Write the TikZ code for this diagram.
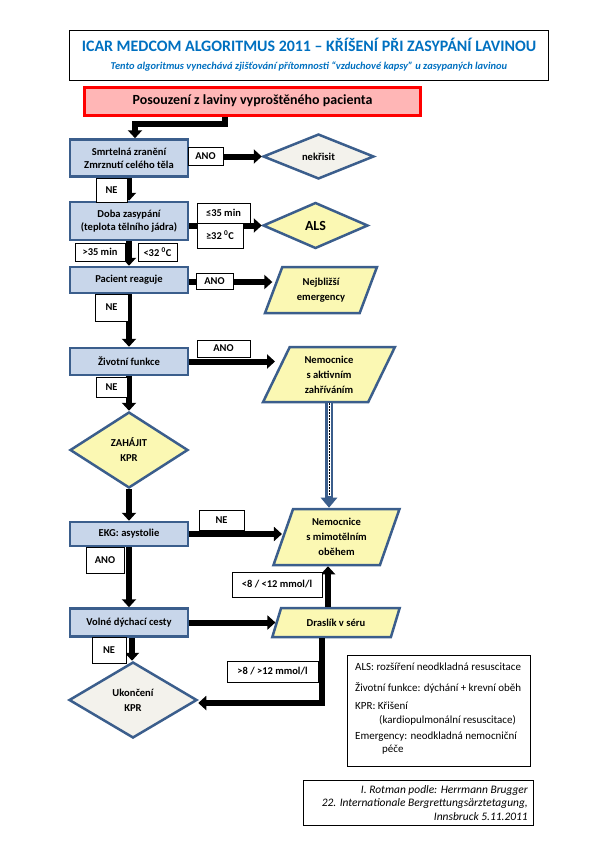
\documentclass[tikz,border=0pt]{standalone}
\usepackage{fontspec}
\setmainfont{Carlito}
\usepackage{tikz}
\usetikzlibrary{shapes,arrows.meta,positioning}
\usepackage{xcolor}
\definecolor{modra}{HTML}{3B5E8C}
\definecolor{svetlemodra}{HTML}{C8D6EA}
\definecolor{zluta}{HTML}{FBF8B3}
\definecolor{seda}{HTML}{F3F2EC}
\definecolor{ruzova}{HTML}{FFB6B6}
\definecolor{nadpis}{HTML}{0070C0}
\newcommand{\pismo}[2]{\fontsize{#1}{#2}\selectfont}

\begin{document}
\begin{tikzpicture}[x=1bp,y=-1bp,
    krok/.style={draw=modra,line width=2.5bp,fill=svetlemodra,minimum width=118bp,
      font=\pismo{10.6}{13}\bfseries,align=center,inner sep=1bp},
    rozhod/.style={diamond,draw=modra,line width=2.5bp,font=\pismo{10.6}{15}\bfseries,
      align=center,inner sep=0pt},
    cil/.style={trapezium,trapezium left angle=66,trapezium right angle=114,
      trapezium stretches=true,draw=modra,line width=2.5bp,fill=zluta,
      font=\pismo{10.6}{15}\bfseries,align=center,inner sep=0pt},
    popis/.style={draw,fill=white,line width=0.6bp,font=\pismo{10.5}{12}\bfseries,inner sep=1bp},
    sipka/.style={line width=6bp,-{Triangle[width=14bp,length=8bp]}},
    legenda/.style={anchor=west,font=\pismo{11}{12},inner sep=0pt},
    zdroj/.style={anchor=east,font=\pismo{11.5}{12}\itshape,inner sep=0pt}]
  \useasboundingbox (0,0) rectangle (595,842);
  % nadpis
  \node[draw,line width=1bp,minimum width=478bp,minimum height=50bp] (ramecek) at (309,55) {};
  \node[font=\pismo{16}{18}\bfseries,text=nadpis] (nadpis) at (309,45)
    {ICAR MEDCOM ALGORITMUS 2011 – KŘÍŠENÍ PŘI ZASYPÁNÍ LAVINOU};
  \node[font=\pismo{10.5}{12}\bfseries\itshape,text=nadpis] (podnadpis) at (309,67)
    {Tento algoritmus vynechává zjišťování přítomnosti “vzduchové kapsy” u zasypaných lavinou};
  \node[draw=red,line width=3bp,fill=ruzova,minimum width=335bp,minimum height=28bp,
    font=\pismo{14}{16}\bfseries] (start) at (252.5,101) {Posouzení z laviny vyproštěného pacienta};

  % levy sloupec
  \node[krok,minimum height=37bp] (smrt) at (129,158) {Smrtelná zranění\\Zmrznutí celého těla};
  \node[krok,minimum height=38bp] (doba) at (129,221) {Doba zasypání\\(teplota tělního jádra)};
  \node[krok,minimum height=26bp] (reaguje) at (129,280) {Pacient reaguje};
  \node[krok,minimum height=27bp] (funkce) at (129,361.5) {Životní funkce};
  \node[rozhod,fill=zluta,minimum width=118bp,minimum height=76bp] (zahajit) at (129,450) {ZAHÁJIT\\KPR};
  \node[krok,minimum height=24bp] (ekg) at (129,534) {EKG: asystolie};
  \node[krok,minimum height=28bp] (cesty) at (129,622.5) {Volné dýchací cesty};
  \node[rozhod,fill=seda,minimum width=128bp,minimum height=76bp] (konec) at (133,700) {Ukončení\\KPR};

  % pravy sloupec
  \node[rozhod,fill=seda,minimum width=111bp,minimum height=45bp] (nekrisit) at (318.5,156.5) {nekřisit};
  \node[rozhod,fill=zluta,minimum width=105bp,minimum height=46bp,font=\pismo{14}{16}\bfseries] (als) at (315.5,225.5) {ALS};
  \node[cil,minimum width=112bp,minimum height=46bp] (emerg) at (321,290) {Nejbližší\\emergency};
  \node[cil,minimum width=132bp,minimum height=55bp] (ohrev) at (329,374.5) {Nemocnice\\s aktivním\\zahříváním};
  \node[cil,trapezium left angle=70,trapezium right angle=110,minimum width=127bp,minimum height=56bp] (obeh) at (336.5,537) {Nemocnice\\s mimotělním\\oběhem};
  \node[cil,trapezium left angle=58,trapezium right angle=122,minimum width=128bp,minimum height=29bp] (draslik) at (336,622.5) {Draslík v séru};

  % sipky
  \draw[sipka] ([xshift=-27.5bp]start.south) -- ++(0,7) -| ([xshift=6bp]smrt.north);
  \draw[sipka] (smrt.east |- nekrisit.west) -- (nekrisit.west);
  \draw[sipka] (smrt) -- (doba);
  \draw[sipka] (doba.east |- als.west) -- (als.west);
  \draw[sipka] (doba) -- (reaguje);
  \draw[sipka] ([yshift=-2bp]reaguje.east) -- ([yshift=-2bp]reaguje.east -| emerg.west);
  \draw[sipka] (reaguje) -- (funkce);
  \draw[sipka] (funkce.east) -- (funkce.east -| ohrev.west);
  \draw[sipka] (funkce) -- (zahajit);
  \draw[sipka] (zahajit) -- (ekg);
  \draw[sipka] (ekg.east) -- (ekg.east -| obeh.west);
  \draw[sipka] (ekg) -- (cesty);
  \draw[sipka] (cesty.east) -- (cesty.east -| draslik.west);
  \draw[sipka] ([xshift=3bp]cesty.south) -- ([xshift=3bp]cesty.south |- konec.north);
  \draw[sipka] ([xshift=-8bp]draslik.north) -- ([xshift=-8bp]draslik.north |- obeh.south);
  \draw[sipka] ([xshift=-14bp]draslik.south) |- ([yshift=-3bp]konec.east);
  % dvojita sipka
  \draw[modra,line width=8bp,-{Triangle[width=16bp,length=10bp]}] (ohrev.south) -- (ohrev.south |- obeh.north);
  \draw[white,line width=3bp] (ohrev.south) -- ([yshift=12bp]ohrev.south |- obeh.north);
  \draw[black,line width=0.8bp,dash pattern=on 1.5bp off 1.5bp] (ohrev.south) -- ([yshift=12bp]ohrev.south |- obeh.north);

  % popisky
  \node[popis,minimum width=35bp,minimum height=18bp] (p1) at (205.5,156) {ANO};
  \node[popis,minimum width=31bp,minimum height=24bp] (p2) at (111.5,190) {NE};
  \node[popis,minimum width=53bp,minimum height=20bp] (p3) at (223.5,213) {≤35 min};
  \node[popis,minimum width=46bp,minimum height=25bp] (p4) at (220,235.5) {≥32 \textsuperscript{0}C};
  \node[popis,minimum width=50bp,minimum height=18bp] (p5) at (100,252) {>35 min};
  \node[popis,minimum width=39bp,minimum height=18bp] (p6) at (157.5,252) {<32 \textsuperscript{0}C};
  \node[popis,minimum width=37bp,minimum height=16bp] (p7) at (214.5,281) {ANO};
  \node[popis,minimum width=33bp,minimum height=27bp] (p8) at (111.5,307.5) {NE};
  \node[popis,minimum width=53bp,minimum height=17bp] (p9) at (223.5,348.5) {ANO};
  \node[popis,minimum width=31bp,minimum height=20bp] (p10) at (111.5,387) {NE};
  \node[popis,minimum width=45bp,minimum height=20bp] (p11) at (221.5,520) {NE};
  \node[popis,minimum width=38bp,minimum height=26bp] (p12) at (105,560) {ANO};
  \node[popis,minimum width=90bp,minimum height=25bp] (p13) at (277,584.5) {<8 / <12 mmol/l};
  \node[popis,minimum width=34bp,minimum height=26bp] (p14) at (109,650) {NE};
  \node[popis,minimum width=91bp,minimum height=21bp] (p15) at (272.5,671.5) {>8 / >12 mmol/l};

  % legenda
  \node[draw,line width=0.8bp,minimum width=183bp,minimum height=111bp] (leg) at (438.5,710.5) {};
  \node[legenda] (l1) at (355,667) {ALS: rozšíření neodkladná resuscitace};
  \node[legenda] (l2) at (355,688) {Životní funkce: dýchání + krevní oběh};
  \node[legenda] (l3) at (355,706) {KPR: Křišení};
  \node[legenda] (l4) at (379,720) {(kardiopulmonální resuscitace)};
  \node[legenda] (l5) at (355,737) {Emergency: neodkladná nemocniční};
  \node[legenda] (l6) at (382,750) {péče};
  % zdroj
  \node[draw,line width=0.8bp,minimum width=230bp,minimum height=45bp] (zdroj) at (418,802.5) {};
  \node[zdroj] (z1) at (528,790) {I. Rotman podle: Herrmann Brugger};
  \node[zdroj] (z2) at (528,803) {22. Internationale Bergrettungsärztetagung,};
  \node[zdroj] (z3) at (528,817) {Innsbruck 5.11.2011};
\end{tikzpicture}
\end{document}
